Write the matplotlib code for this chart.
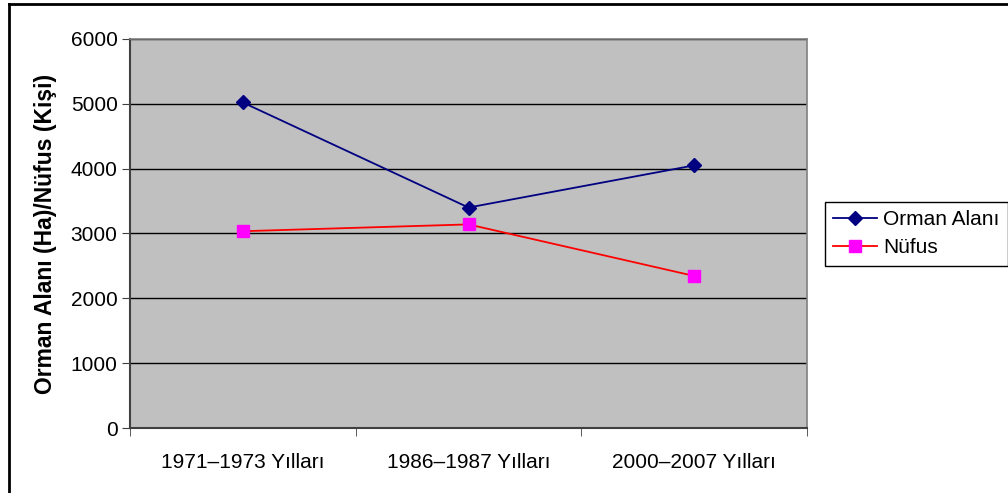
import numpy as np
import matplotlib.pyplot as plt
from matplotlib.lines import Line2D

plt.rcParams['font.family'] = ['Liberation Sans', 'DejaVu Sans']

categories = ['1971–1973 Yılları', '1986–1987 Yılları', '2000–2007 Yılları']
orman = [5020, 3400, 4050]
nufus = [3035, 3140, 2345]
yticks = [0, 1000, 2000, 3000, 4000, 5000, 6000]

fig = plt.figure(figsize=(10.08, 4.93), dpi=100)
ax = fig.add_axes([0.129, 0.1318, 0.6716, 0.7892])
ax.set_facecolor('#c0c0c0')

x = np.arange(len(categories))
ax.plot(x, orman, color='#000080', lw=1.3, marker='D', ms=7,
        markerfacecolor='#000080', markeredgecolor='#000080', label='Orman Alanı', zorder=3)
ax.plot(x, nufus, color='#ff0000', lw=1.3, marker='s', ms=8,
        markerfacecolor='#ff00ff', markeredgecolor='#ff00ff', label='Nüfus', zorder=3)

ax.set_xlim(-0.5, 2.5)
ax.set_ylim(0, 6000)
ax.set_yticks(yticks)
ax.yaxis.grid(True, color='black', lw=1)
ax.set_axisbelow(True)

ax.set_xticks(x)
ax.set_xticklabels(categories, fontsize=15)
ax.tick_params(axis='x', which='major', length=0, pad=18)
ax.set_xticks([-0.5, 0.5, 1.5, 2.5], minor=True)
ax.tick_params(axis='x', which='minor', length=6, direction='out', color='#404040')
ax.tick_params(axis='y', length=6, direction='out', color='#404040', labelsize=15, pad=3)

for s in ['top', 'right']:
    ax.spines[s].set_color('#808080')
    ax.spines[s].set_linewidth(1.2)
for s in ['left', 'bottom']:
    ax.spines[s].set_color('#404040')
    ax.spines[s].set_linewidth(1.5)

ax.set_ylabel('Orman Alanı (Ha)/Nüfus (Kişi)', fontsize=16.5, fontweight='bold', labelpad=10)

leg = fig.legend(loc='center left', bbox_to_anchor=(0.818, 0.526), fontsize=15,
                 frameon=True, fancybox=False, edgecolor='black', framealpha=1,
                 handlelength=2.1, handletextpad=0.3, borderpad=0.4, labelspacing=0.45,
                 borderaxespad=0)
leg.get_frame().set_linewidth(1.0)

# outer chart frame (left and top edges visible)
fig.add_artist(Line2D([0.0085, 0.0085], [0, 0.992], transform=fig.transFigure, color='black', lw=2))
fig.add_artist(Line2D([0.0085, 1.0], [0.992, 0.992], transform=fig.transFigure, color='black', lw=2))

fig.savefig('out.png', dpi=100)
